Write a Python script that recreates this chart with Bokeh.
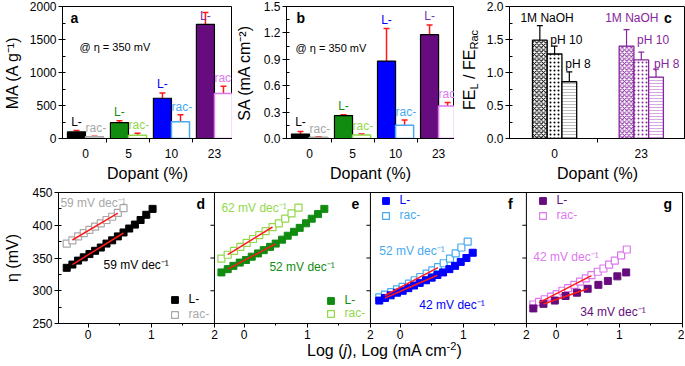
import numpy as np
from bokeh.plotting import figure
from bokeh.models import (ColumnDataSource, Range1d, FixedTicker, SingleIntervalTicker,
                          CustomJSTickFormatter, PrintfTickFormatter, Whisker, TeeHead,
                          Label, Legend, LegendItem, Span, Div)
from bokeh.layouts import column, row
from bokeh.embed import file_html
from bokeh.resources import INLINE
from bokeh.core.properties import value

FONT = "Liberation Sans"
TICK_FS = "12px"
AXIS_FS = "16px"
TXT_FS = "11.5px"

BLACK = "#000000"; GRAY = "#a8a8a8"; GREEN = "#118c11"; LGREEN = "#93d84a"
BLUE = "#0000ff"; LBLUE = "#47aaf0"; PURPLE = "#660c7e"; PURPLE_T = "#7a2fb5"
VIOLET = "#dd77ee"; RED = "#ff1a1a"; CPURPLE = "#86269c"; CLPURPLE = "#d8a8e4"

# ---------------- data: panels a, b ----------------
dopant_labels = ["0", "5", "10", "23"]
ma_L = [100, 240, 610, 1730]
ma_L_err = [20, 30, 80, 180]
ma_rac = [25, 50, 255, 680]
ma_rac_err = [8, 30, 105, 110]
sa_L = [0.05, 0.26, 0.88, 1.18]
sa_L_err = [0.03, 0.01, 0.37, 0.11]
sa_rac = [0.015, 0.04, 0.15, 0.37]
sa_rac_err = [0.005, 0.01, 0.06, 0.04]

# ---------------- data: panel c ----------------
fe_groups = ["0", "23"]
fe_naoh = [1.49, 1.40]
fe_naoh_err = [0.22, 0.25]
fe_ph10 = [1.28, 1.19]
fe_ph10_err = [0.12, 0.12]
fe_ph8 = [0.86, 0.93]
fe_ph8_err = [0.15, 0.12]

# ---------------- data: panels d-g (Tafel) ----------------
d_L_x = [-0.34, -0.25, -0.16, -0.07, 0.02, 0.11, 0.20, 0.29, 0.38, 0.47, 0.56, 0.65, 0.74, 0.83, 0.92, 1.02]
d_L_y = [335, 340, 346, 351, 356, 361, 366, 372, 377, 383, 389, 395, 401, 408, 416, 425]
d_rac_x = [-0.34, -0.25, -0.16, -0.07, 0.02, 0.11, 0.20, 0.29, 0.38, 0.47, 0.56]
d_rac_y = [372, 377, 383, 388, 393, 398, 403, 408, 413, 419, 426]

e_L_x = [-0.36, -0.26, -0.17, -0.07, 0.03, 0.12, 0.22, 0.31, 0.41, 0.50, 0.60, 0.69, 0.79, 0.88, 0.98, 1.07, 1.17, 1.27]
e_L_y = [328, 333, 338, 343, 347, 352, 357, 362, 367, 372, 378, 384, 390, 396, 403, 410, 417, 425]
e_rac_x = [-0.36, -0.26, -0.16, -0.06, 0.04, 0.14, 0.24, 0.34, 0.45, 0.55, 0.65, 0.75, 0.86]
e_rac_y = [349, 355, 361, 367, 373, 379, 385, 391, 397, 403, 410, 418, 427]

f_L_x = [-0.33, -0.24, -0.15, -0.05, 0.04, 0.13, 0.22, 0.31, 0.41, 0.50, 0.59, 0.68, 0.78, 0.87, 0.96, 1.05, 1.15]
f_L_y = [285, 289, 293, 297, 300, 304, 308, 312, 316, 320, 324, 328, 333, 338, 344, 350, 358]
f_rac_x = [-0.33, -0.24, -0.14, -0.05, 0.04, 0.14, 0.23, 0.32, 0.42, 0.51, 0.60, 0.69, 0.79, 0.88, 0.97, 1.07]
f_rac_y = [290, 294, 298, 302, 306, 311, 316, 321, 326, 331, 336, 342, 349, 357, 366, 375]

g_L_x = [-0.36, -0.20, -0.02, 0.15, 0.33, 0.50, 0.67, 0.82, 0.97, 1.11]
g_L_y = [273, 280, 285, 292, 297, 303, 309, 315, 322, 328]
g_rac_x = [-0.36, -0.27, -0.18, -0.08, 0.01, 0.10, 0.19, 0.29, 0.38, 0.47, 0.56, 0.66, 0.75, 0.84, 0.93, 1.03, 1.12]
g_rac_y = [279, 283, 287, 291, 295, 300, 304, 309, 314, 319, 324, 329, 334, 340, 346, 354, 363]

tafel_labels = ["0", "1", "2"]
eta_ticks = [250, 300, 350, 400, 450]


def style(p):
    p.grid.visible = False
    p.outline_line_color = "black"
    p.outline_line_width = 1
    p.background_fill_color = "white"
    p.border_fill_color = "white"
    for ax in p.axis:
        ax.axis_line_color = "black"
        ax.major_tick_line_color = "black"
        ax.minor_tick_line_color = "black"
        ax.major_label_text_font = FONT
        ax.major_label_text_font_size = TICK_FS
        ax.major_label_text_color = "black"
        ax.axis_label_text_font = FONT
        ax.axis_label_text_font_size = AXIS_FS
        ax.axis_label_text_font_style = "normal"
        ax.axis_label_text_color = "black"
        ax.major_label_standoff = 2


def top_fig(fw, bl, br, xr, yr, interval, ylabel, fmt, ystand):
    p = figure(frame_width=fw, frame_height=132, x_range=xr, y_range=yr,
               min_border_left=bl, min_border_right=br, min_border_top=6, min_border_bottom=47,
               output_backend="svg", toolbar_location=None)
    style(p)
    p.yaxis.ticker = SingleIntervalTicker(interval=interval, num_minor_ticks=2)
    p.yaxis.formatter = PrintfTickFormatter(format=fmt)
    p.yaxis.major_tick_out = 4
    p.yaxis.major_tick_in = 0
    p.yaxis.minor_tick_in = 3
    p.yaxis.minor_tick_out = 0
    p.yaxis.axis_label = ylabel
    p.yaxis.axis_label_standoff = ystand
    p.xaxis.axis_label = "Dopant (%)"
    p.xaxis.major_tick_out = 0
    p.xaxis.major_tick_in = 0
    p.xaxis.minor_tick_out = 4
    p.xaxis.minor_tick_in = 0
    p.xaxis.major_label_standoff = 6
    p.xaxis.axis_label_standoff = 4
    return p


def txt(p, x, y, s, color="black", size=TXT_FS, bold=False, align="left", rng=None):
    kw = dict(x=x, y=y, text=s, text_color=color, text_font=FONT, text_font_size=size,
              text_align=align, text_baseline="middle")
    if bold:
        kw["text_font_style"] = "bold"
    if rng is not None:
        kw["x_range_name"] = rng
    p.add_layout(Label(**kw))


def bar_panel(p, L, Lerr, rac, racerr, L_colors, L_text, rac_colors, ymax):
    xg = np.arange(len(L), dtype=float)
    w = 0.42
    Lx = xg - w / 2
    rx = xg + w / 2
    p.vbar(x=Lx, top=L, width=w, fill_color=L_colors, line_color="black", line_width=1.2)
    p.vbar(x=rx, top=rac, width=w, fill_color="white", line_color=rac_colors, line_width=1.5)
    Lv = np.array(L, dtype=float); Le = np.array(Lerr, dtype=float)
    Rv = np.array(rac, dtype=float); Re = np.array(racerr, dtype=float)
    src = ColumnDataSource(dict(x=np.concatenate([Lx, rx]), upper=np.concatenate([Lv + Le, Rv + Re]),
                                lower=np.concatenate([Lv - Le, Rv - Re])))
    p.add_layout(Whisker(source=src, base="x", upper="upper", lower="lower",
                         line_color=RED, line_width=1.5,
                         upper_head=TeeHead(size=6, line_color=RED, line_width=1.5),
                         lower_head=TeeHead(size=6, line_color=RED, line_width=1.5)))
    # "L-" labels centred over the L bars, "rac-" labels starting at the rac bar's left edge
    p.text(x=Lx, y=np.minimum(Lv + Le, 0.86 * ymax), text=["L-"] * len(L),
           text_color=L_text, text_font=value(FONT), text_font_size="12px",
           text_align="center", text_baseline="bottom", y_offset=-2)
    p.text(x=xg, y=np.minimum(Rv + Re, 0.86 * ymax), text=["rac-"] * len(rac),
           text_color=rac_colors, text_font=value(FONT), text_font_size="12px",
           text_align="left", text_baseline="bottom", y_offset=-1)


def cat_axis(p, ticks, minor, labels):
    p.xaxis.ticker = FixedTicker(ticks=ticks, minor_ticks=minor)
    p.xaxis.formatter = CustomJSTickFormatter(args=dict(labels=labels), code="return labels[index];")


L_colors = [BLACK, GREEN, BLUE, PURPLE]
L_text = [BLACK, GREEN, BLUE, PURPLE_T]
rac_colors = [GRAY, LGREEN, LBLUE, VIOLET]

# ---------- panel a ----------
pa = top_fig(170, 60, 0, Range1d(-0.535, 3.42), Range1d(0, 2000), 500, "MA (A g\u207b\u00b9)", "%d", 6)
cat_axis(pa, [0, 1, 2, 3], [0.5, 1.5, 2.5], dopant_labels)
bar_panel(pa, ma_L, ma_L_err, ma_rac, ma_rac_err, L_colors, L_text, rac_colors, 2000)
txt(pa, -0.349, 1833, "a", bold=True, size="14px")
txt(pa, -0.14, 1379, "@ \u03b7 = 350 mV", size="11px")

# ---------- panel b ----------
pb = top_fig(168, 54, 0, Range1d(-0.535, 3.37), Range1d(0, 1.5), 0.3, "SA (mA cm\u207b\u00b2)", "%.1f", 8)
cat_axis(pb, [0, 1, 2, 3], [0.5, 1.5, 2.5], dopant_labels)
bar_panel(pb, sa_L, sa_L_err, sa_rac, sa_rac_err, L_colors, L_text, rac_colors, 1.5)
txt(pb, -0.302, 1.375, "b", bold=True, size="14px")
txt(pb, -0.325, 1.023, "@ \u03b7 = 350 mV", size="11px")

# ---------- panel c ----------
pc = top_fig(176, 29, 0, Range1d(-0.52, 1.51), Range1d(0, 2.0), 0.5, None, "%.1f", 6)
cat_axis(pc, [0, 1], [0.5], fe_groups)
cw = 0.17
cx = np.arange(2, dtype=float)
grp_line = [BLACK, CPURPLE]
p8_hatch = ["#bdbdbd", CLPURPLE]
pc.vbar(x=cx - cw, top=fe_naoh, width=cw, fill_color="white", line_color=grp_line, line_width=1.3,
        hatch_pattern="diagonal_cross", hatch_color=grp_line, hatch_scale=4.5, hatch_weight=1)
pc.vbar(x=cx, top=fe_ph10, width=cw, fill_color="white", line_color=grp_line, line_width=1.3,
        hatch_pattern="dot", hatch_color=grp_line, hatch_scale=4, hatch_weight=1)
pc.vbar(x=cx + cw, top=fe_ph8, width=cw, fill_color="white", line_color=grp_line, line_width=1.3,
        hatch_pattern="horizontal_line", hatch_color=p8_hatch, hatch_scale=3, hatch_weight=1)
for gi, col in enumerate(grp_line):
    xs = [gi - cw, gi, gi + cw]
    vs = np.array([fe_naoh[gi], fe_ph10[gi], fe_ph8[gi]])
    es = np.array([fe_naoh_err[gi], fe_ph10_err[gi], fe_ph8_err[gi]])
    s = ColumnDataSource(dict(x=xs, upper=vs + es, lower=vs - es))
    pc.add_layout(Whisker(source=s, base="x", upper="upper", lower="lower", line_color=col, line_width=1.2,
                          upper_head=TeeHead(size=6, line_color=col, line_width=1.2),
                          lower_head=TeeHead(size=6, line_color=col, line_width=1.2)))
txt(pc, -0.394, 1.826, "1M NaOH", size="12px")
txt(pc, -0.049, 1.50, "pH 10", size="12px")
txt(pc, 0.124, 1.136, "pH 8", size="12px")
txt(pc, 0.583, 1.826, "1M NaOH", color=CPURPLE, size="12px")
txt(pc, 0.951, 1.50, "pH 10", color=CPURPLE, size="12px")
txt(pc, 1.147, 1.136, "pH 8", color=CPURPLE, size="12px")
txt(pc, 1.262, 1.833, "c", bold=True, size="14px")

# rotated y label of panel c (FE_L / FE_Rac) as HTML with real subscripts
div_c = Div(width=26, height=185, margin=(0, 0, 0, 0), text=(
    '<div style="padding-left:7px; padding-top:30px;">'
    '<div style="writing-mode:vertical-rl; transform:rotate(180deg); font-family:\'Liberation Sans\';'
    ' font-size:16px; line-height:18px; white-space:nowrap; color:black;">'
    'FE<sub style="font-size:11px;">L</sub> / FE<sub style="font-size:11px;">Rac</sub></div></div>'))

# ---------- bottom: panels d-g ----------
W = 2.47
X0 = -0.47
names = ["d", "e", "f", "g"]
FRAME_W = 624
pd_ = figure(frame_width=FRAME_W, frame_height=131, x_range=Range1d(X0, X0 + 4 * W + 0.002),
             y_range=Range1d(250, 450), min_border_left=58, min_border_right=2,
             min_border_top=7, min_border_bottom=21, output_backend="svg", toolbar_location=None)
for k, nm in enumerate(names):
    pd_.extra_x_ranges[nm] = Range1d(X0 - k * W, X0 - k * W + 4 * W + 0.002)
style(pd_)
pd_.yaxis.ticker = SingleIntervalTicker(interval=50, num_minor_ticks=2)
pd_.yaxis.major_tick_out = 4
pd_.yaxis.major_tick_in = 0
pd_.yaxis.minor_tick_in = 3
pd_.yaxis.minor_tick_out = 0
pd_.yaxis.axis_label = "\u03b7 (mV)"
pd_.yaxis.axis_label_standoff = 8
ticks = [k * W + t for k in range(4) for t in (0, 1, 2)]
minors = [k * W + t for k in range(4) for t in (0.5, 1.5)]
pd_.xaxis.ticker = FixedTicker(ticks=ticks, minor_ticks=minors)
pd_.xaxis.formatter = CustomJSTickFormatter(args=dict(labels=tafel_labels * 4), code="return labels[index];")
pd_.xaxis.major_tick_out = 4
pd_.xaxis.major_tick_in = 0
pd_.xaxis.minor_tick_out = 2
pd_.xaxis.minor_tick_in = 0
units_per_px = (4 * W) / FRAME_W
div_x0, div_x1, div_y = [], [], []
for k in range(1, 4):
    xb = X0 + k * W
    pd_.add_layout(Span(location=xb, dimension="height", line_color="black", line_width=1))
    for t in eta_ticks[1:-1]:
        div_x0.append(xb - 4 * units_per_px)
        div_x1.append(xb)
        div_y.append(t)
# short y-ticks of the inner panels, pointing left from each divider
pd_.segment(x0=div_x0, x1=div_x1, y0=div_y, y1=div_y, line_color="black", line_width=1)

series = [
    ("d", d_L_x, d_L_y, d_rac_x, d_rac_y, BLACK, GRAY, (1, 10), (1, 9)),
    ("e", e_L_x, e_L_y, e_rac_x, e_rac_y, GREEN, LGREEN, (1, 9), (1, 8)),
    ("f", f_L_x, f_L_y, f_rac_x, f_rac_y, BLUE, LBLUE, (1, 10), (1, 10)),
    ("g", g_L_x, g_L_y, g_rac_x, g_rac_y, PURPLE, VIOLET, (1, 5), (1, 10)),
]
BOT_LEFT = 58
BOT_BOTTOM = 185 + 7 + 131
legend_pos = {"d": ((174, 299), (174, 314)), "e": ((330, 300), (330, 313)),
              "f": ((385, 200), (385, 215)), "g": ((542, 200), (542, 215))}
G = 17


def add_leg(r, label, color, px, py):
    fx = px - BOT_LEFT
    fy = BOT_BOTTOM - py
    leg = Legend(items=[LegendItem(label=label, renderers=[r])], location=(fx - G / 2, fy - G / 2),
                 glyph_width=G, glyph_height=G, label_height=12, label_standoff=6, padding=0, margin=0,
                 spacing=0, border_line_color=None, background_fill_alpha=0, label_text_font=FONT,
                 label_text_font_size="12px", label_text_color=color)
    pd_.add_layout(leg)


for nm, lx, ly, rx_, ry_, cL, cR, fL, fR in series:
    r_rac = pd_.scatter(rx_, ry_, marker="square", size=7, fill_color="white", line_color=cR,
                        line_width=1.2, x_range_name=nm)
    r_L = pd_.scatter(lx, ly, marker="square", size=7, fill_color=cL, line_color=cL, x_range_name=nm)
    for xs, ys, (lo, hi) in ((rx_, ry_, fR), (lx, ly, fL)):
        xa = np.array(xs[lo:hi + 1])
        ya = np.array(ys[lo:hi + 1])
        m, b = np.polyfit(xa, ya, 1)
        pd_.line([xa[0], xa[-1]], [m * xa[0] + b, m * xa[-1] + b], line_color=RED, line_width=1.5,
                 x_range_name=nm)
    (lxp, lyp), (rxp, ryp) = legend_pos[nm]
    add_leg(r_L, "L-", cL, lxp, lyp)
    add_leg(r_rac, "rac-", cR, rxp, ryp)

DEC = " mV dec\u207b\u00b9"
txt(pd_, -0.44, 434.7, "59" + DEC, color=GRAY, size="12px", rng="d")
txt(pd_, 0.242, 340, "59" + DEC, color=BLACK, size="12px", rng="d")
txt(pd_, 1.714, 433, "d", bold=True, size="14px", rng="d")
txt(pd_, -0.36, 427, "62" + DEC, color=LGREEN, size="12px", rng="e")
txt(pd_, 0.40, 335.5, "52" + DEC, color=GREEN, size="12px", rng="e")
txt(pd_, 1.70, 431.7, "e", bold=True, size="14px", rng="e")
txt(pd_, -0.33, 360, "52" + DEC, color=LBLUE, size="12px", rng="f")
txt(pd_, 0.305, 279, "42" + DEC, color=BLUE, size="12px", rng="f")
txt(pd_, 1.71, 432, "f", bold=True, size="14px", rng="f")
txt(pd_, -0.36, 352, "42" + DEC, color=VIOLET, size="12px", rng="g")
txt(pd_, 0.384, 268, "34" + DEC, color=PURPLE, size="12px", rng="g")
txt(pd_, 1.70, 432, "g", bold=True, size="14px", rng="g")

# x-axis title of the bottom row, as HTML (italic j, real superscript)
div_x = Div(width=684, height=21, margin=(0, 0, 0, 0), text=(
    '<div style="padding-left:307px; font-family:\'Liberation Sans\'; font-size:16px; line-height:14px;'
    ' white-space:nowrap; color:black;">Log (<i>j</i>), Log (mA cm<sup style="font-size:11px;'
    ' line-height:0;">-2</sup>)</div>'))

layout = column(row(pa, pb, div_c, pc), pd_, div_x)
open("out.html", "w").write(file_html(layout, INLINE))
